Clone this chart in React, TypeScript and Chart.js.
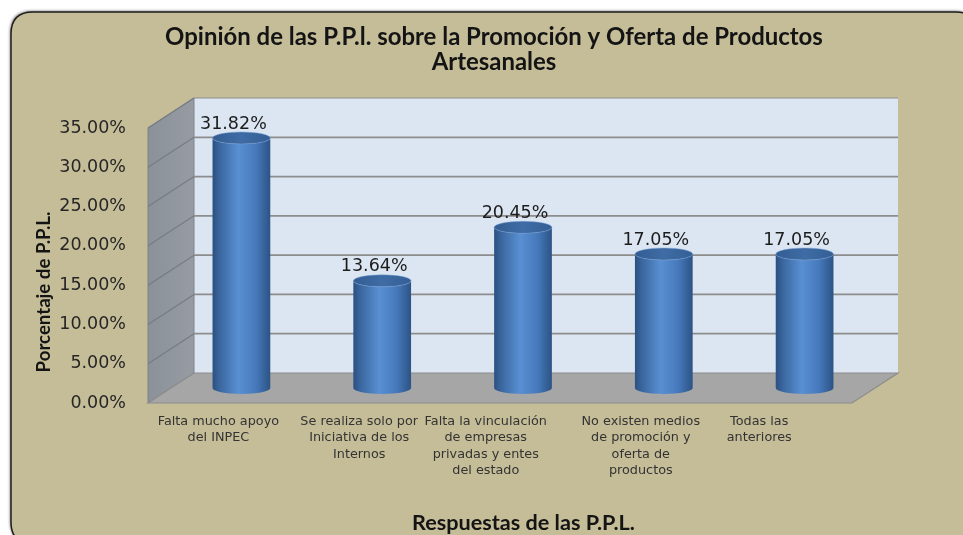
import React, { useEffect, useRef } from "react";
import { Chart, registerables } from "chart.js";
Chart.register(...registerables);

const PAD3 = "       ";
const PAD5 = "           ";
const categories: string[][] = [
  ["Falta mucho apoyo", "del INPEC"],
  ["Se realiza solo por", "Iniciativa de los", "Internos"],
  ["Falta la vinculación" + PAD3, "de empresas" + PAD3, "privadas y entes" + PAD3, "del estado" + PAD3],
  ["No existen medios", "de promoción y", "oferta de", "productos"],
  ["Todas las" + PAD5, "anteriores" + PAD5],
];
const values: number[] = [31.82, 13.64, 20.45, 17.05, 17.05];
const yTicks: number[] = [0, 5, 10, 15, 20, 25, 30, 35];
const titleLines: string[] = [
  "Opinión de las P.P.l. sobre la Promoción y Oferta de Productos",
  "Artesanales",
];
const xTitle = "Respuestas de las P.P.L.";
const yTitle = "Porcentaje de P.P.L.";

const DX = 46;
const DY = 30;
const SANS = "'DejaVu Sans', Verdana, sans-serif";
const HEAD = "Lato, 'Open Sans', sans-serif";

function fitFont(ctx: CanvasRenderingContext2D, text: string, target: number, base: number) {
  ctx.font = `bold ${base}px ${HEAD}`;
  const w = ctx.measureText(text).width;
  const size = (base * target) / w;
  ctx.font = `bold ${size}px ${HEAD}`;
}

function roundRect(ctx: CanvasRenderingContext2D, x: number, y: number, w: number, h: number, r: number) {
  ctx.beginPath();
  ctx.moveTo(x + r, y);
  ctx.lineTo(x + w - r, y);
  ctx.quadraticCurveTo(x + w, y, x + w, y + r);
  ctx.lineTo(x + w, y + h - r);
  ctx.quadraticCurveTo(x + w, y + h, x + w - r, y + h);
  ctx.lineTo(x + r, y + h);
  ctx.quadraticCurveTo(x, y + h, x, y + h - r);
  ctx.lineTo(x, y + r);
  ctx.quadraticCurveTo(x, y, x + r, y);
  ctx.closePath();
}

const scenePlugin = {
  id: "scene3d",
  beforeDraw(chart: any) {
    const ctx: CanvasRenderingContext2D = chart.ctx;
    ctx.save();
    ctx.fillStyle = "#ffffff";
    ctx.fillRect(0, 0, chart.width, chart.height);
    ctx.shadowColor = "rgba(0,0,0,0.55)";
    ctx.shadowBlur = 3;
    ctx.shadowOffsetX = -1;
    ctx.shadowOffsetY = -1;
    roundRect(ctx, 11, 12, 967, 532, 22);
    ctx.fillStyle = "#c5bd98";
    ctx.fill();
    ctx.shadowColor = "transparent";
    ctx.lineWidth = 1.5;
    ctx.strokeStyle = "#1e1e1e";
    ctx.stroke();

    // Titles
    ctx.fillStyle = "#141414";
    ctx.textAlign = "center";
    ctx.textBaseline = "middle";
    fitFont(ctx, titleLines[0], 658, 20);
    ctx.fillText(titleLines[0], 494, 37);
    ctx.fillText(titleLines[1], 494, 62);

    fitFont(ctx, xTitle, 223, 18);
    ctx.fillText(xTitle, 523.5, 523);

    ctx.save();
    ctx.translate(44, 292);
    ctx.rotate(-Math.PI / 2);
    fitFont(ctx, yTitle, 161, 16);
    ctx.fillText(yTitle, 0, 0);
    ctx.restore();
    ctx.restore();
  },
  beforeDatasetsDraw(chart: any) {
    const ctx: CanvasRenderingContext2D = chart.ctx;
    const a = chart.chartArea;
    const y = chart.scales.y;
    const L = a.left, R = a.right, T = a.top, B = a.bottom;
    ctx.save();
    // back wall
    ctx.fillStyle = "#dce6f2";
    ctx.fillRect(L + DX, T - DY, R - L, B - T);
    // side wall
    const sg = ctx.createLinearGradient(L, 0, L + DX, 0);
    sg.addColorStop(0, "#8b9199");
    sg.addColorStop(1, "#979ca3");
    ctx.beginPath();
    ctx.moveTo(L, T);
    ctx.lineTo(L + DX, T - DY);
    ctx.lineTo(L + DX, B - DY);
    ctx.lineTo(L, B);
    ctx.closePath();
    ctx.fillStyle = sg;
    ctx.fill();
    ctx.strokeStyle = "#7d838b";
    ctx.lineWidth = 1;
    ctx.stroke();
    // floor
    ctx.beginPath();
    ctx.moveTo(L, B);
    ctx.lineTo(L + DX, B - DY);
    ctx.lineTo(R + DX, B - DY);
    ctx.lineTo(R, B);
    ctx.closePath();
    ctx.fillStyle = "#a6a6a6";
    ctx.fill();
    ctx.strokeStyle = "#8c8c8c";
    ctx.lineWidth = 1.2;
    ctx.stroke();
    // grid lines
    for (const v of yTicks) {
      if (v === 0) continue;
      const py = y.getPixelForValue(v);
      ctx.strokeStyle = "#8d8d8d";
      ctx.lineWidth = v === 35 ? 1 : 1.8;
      ctx.beginPath();
      ctx.moveTo(L + DX, py - DY);
      ctx.lineTo(R + DX, py - DY);
      ctx.stroke();
      ctx.strokeStyle = "#767c84";
      ctx.lineWidth = 1.2;
      ctx.beginPath();
      ctx.moveTo(L, py);
      ctx.lineTo(L + DX, py - DY);
      ctx.stroke();
    }
    ctx.restore();
  },
  afterDatasetsDraw(chart: any) {
    const ctx: CanvasRenderingContext2D = chart.ctx;
    const meta = chart.getDatasetMeta(0);
    ctx.save();
    meta.data.forEach((el: any, i: number) => {
      const p = el.getProps(["x", "y", "base", "width"], true);
      const cx = p.x + DX / 2;
      const ty = p.y - DY / 2;
      const by = p.base - DY / 2;
      const rx = p.width / 2;
      const ry = 6;
      const g = ctx.createLinearGradient(cx - rx, 0, cx + rx, 0);
      g.addColorStop(0, "#2b5081");
      g.addColorStop(0.12, "#3a669e");
      g.addColorStop(0.45, "#5990d3");
      g.addColorStop(0.75, "#4679bb");
      g.addColorStop(1, "#2c5385");
      ctx.beginPath();
      ctx.moveTo(cx - rx, ty);
      ctx.lineTo(cx - rx, by);
      ctx.ellipse(cx, by, rx, ry, 0, Math.PI, 0, true);
      ctx.lineTo(cx + rx, ty);
      ctx.ellipse(cx, ty, rx, ry, 0, 0, Math.PI, false);
      ctx.closePath();
      ctx.fillStyle = g;
      ctx.fill();
      // top cap
      const tg = ctx.createLinearGradient(cx - rx, 0, cx + rx, 0);
      tg.addColorStop(0, "#335d92");
      tg.addColorStop(0.5, "#3f6ca5");
      tg.addColorStop(1, "#345f95");
      ctx.beginPath();
      ctx.ellipse(cx, ty, rx, ry, 0, 0, Math.PI * 2);
      ctx.fillStyle = tg;
      ctx.fill();
      ctx.strokeStyle = "rgba(120,160,215,0.6)";
      ctx.lineWidth = 0.8;
      ctx.stroke();
      // value label
      ctx.fillStyle = "#1c1c1c";
      ctx.font = `17.5px ${SANS}`;
      ctx.textAlign = "center";
      ctx.textBaseline = "middle";
      ctx.fillText(values[i].toFixed(2) + "%", cx - 8, ty - 14);
    });
    ctx.restore();
  },
};

export default function App() {
  const ref = useRef<HTMLCanvasElement | null>(null);
  useEffect(() => {
    if (!ref.current) return;
    const chart = new Chart(ref.current, {
      type: "bar",
      data: {
        labels: categories,
        datasets: [
          {
            data: values,
            backgroundColor: "rgba(0,0,0,0)",
            borderWidth: 0,
            barPercentage: 0.41,
            categoryPercentage: 1,
          },
        ],
      },
      options: {
        animation: false,
        responsive: false,
        layout: { padding: { left: 0, top: 128, right: 111, bottom: 0 } },
        plugins: {
          legend: { display: false },
          tooltip: { enabled: false },
          title: { display: false },
        },
        scales: {
          x: {
            grid: { display: false, drawTicks: false },
            border: { display: false },
            ticks: {
              padding: 10,
              color: "#333333",
              maxRotation: 0,
              autoSkip: false,
              font: { family: SANS, size: 12.8, lineHeight: 1.29 },
            },
            afterFit: (s: any) => {
              s.height = 132;
            },
          },
          y: {
            min: 0,
            max: 35,
            grid: { display: false, drawTicks: false },
            border: { display: false },
            afterBuildTicks: (s: any) => {
              s.ticks = yTicks.map((v) => ({ value: v }));
            },
            ticks: {
              padding: 22,
              color: "#262626",
              font: { family: SANS, size: 17.5 },
              callback: (v: any) => Number(v).toFixed(2) + "%",
            },
            afterFit: (s: any) => {
              s.width = 148;
            },
          },
        },
      },
      plugins: [scenePlugin],
    });
    return () => chart.destroy();
  }, []);
  return (
    <div style={{ position: "absolute", left: 0, top: 0, width: 963, height: 535, overflow: "hidden" }}>
      <canvas ref={ref} width={963} height={535} style={{ display: "block", width: 963, height: 535 }} />
    </div>
  );
}
